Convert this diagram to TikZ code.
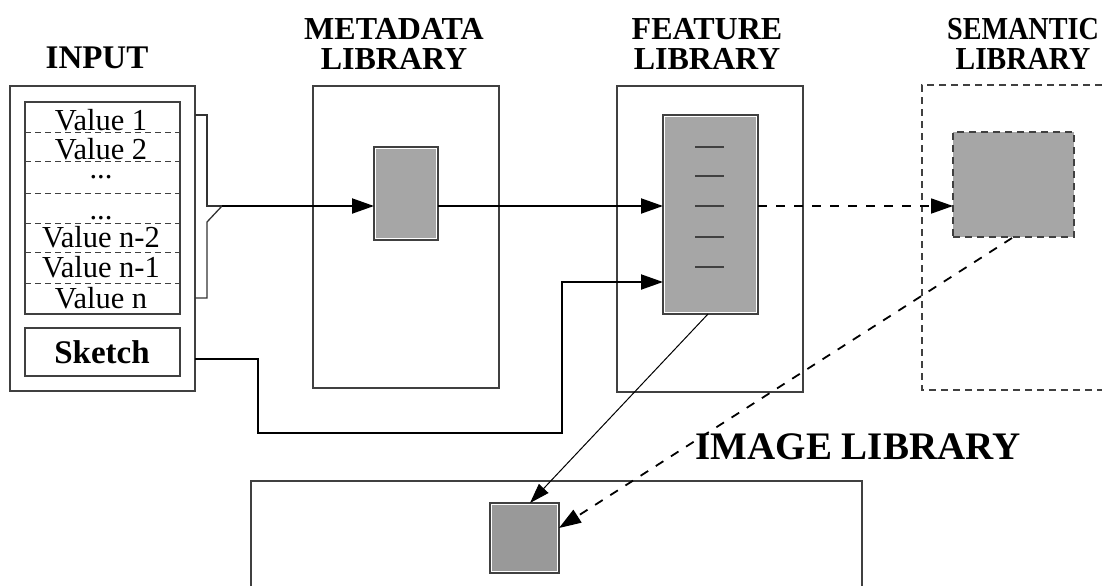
\documentclass[tikz,border=0pt]{standalone}
\usepackage{fontspec}
\setmainfont{Liberation Serif}
\usetikzlibrary{arrows.meta,fit,calc}
\definecolor{lgray}{HTML}{A6A6A6}
\definecolor{dgray}{HTML}{999999}
\definecolor{edge}{HTML}{404040}
\begin{document}
\begin{tikzpicture}[x=1pt,y=-1pt,
  box/.style={draw=edge, line width=1.3pt, inner sep=0pt, outer sep=0pt},
  gbox/.style={draw=edge, line width=1.3pt, inner sep=0pt, outer sep=0pt, fill=white,
    path picture={\fill[#1] ([shift={(2.2pt,2.2pt)}]path picture bounding box.south west) rectangle ([shift={(-2.2pt,-2.2pt)}]path picture bounding box.north east);}},
  dbox/.style={draw=edge, line width=1.5pt, dash pattern=on 7pt off 5pt, fill=lgray, inner sep=0pt, outer sep=0pt},
  dline/.style={draw=edge, line width=1.4pt, dash pattern=on 7pt off 5pt},
  rowline/.style={draw=edge, line width=1pt, dash pattern=on 6pt off 4pt},
  conn/.style={line width=2pt, -{Triangle[length=22pt,width=15pt]}},
  dconn/.style={line width=1.8pt, dash pattern=on 9pt off 9pt, -{Triangle[length=22pt,width=15pt]}},
  tconn/.style={line width=1pt, -{Triangle[length=20pt,width=13pt]}},
  ttl/.style={font=\bfseries\fontsize{32}{30}\selectfont, align=center, inner sep=0pt},
  val/.style={font=\fontsize{30.5}{30}\selectfont, inner sep=0pt, anchor=base, text height=19pt, text depth=0pt},
  dots/.style={font=\fontsize{30.5}{30}\selectfont, inner sep=0pt, anchor=base, text height=4pt, text depth=0pt}
]
\useasboundingbox (0,0) rectangle (1102,586);

% titles
\node[ttl, font=\bfseries\fontsize{33}{30}\selectfont] (tin) at (97,58) {INPUT};
\node[ttl] (tmeta) at (394,44) {METADATA\\LIBRARY};
\node[ttl] (tfeat) at (707,44) {FEATURE\\LIBRARY};
\node[ttl] (tsem) at (1023,44) {\scalebox{0.88}[1]{SEMANTIC}\\\scalebox{0.92}[1]{LIBRARY}};
\node[ttl, font=\bfseries\fontsize{39}{39}\selectfont] (timg) at (858,447) {IMAGE LIBRARY};

% input
\node[box, fit={(10,86) (195,391)}] (input) {};
\node[box, fit={(25,102) (180,314)}] (vals) {};
\foreach \y in {132,161,193,223,252,283}
  \draw[rowline] (25,\y) -- (180,\y);
\node[val] (v1) at (101,130) {Value 1};
\node[val] (v2) at (101,159) {Value 2};
\node[dots] (v3) at (101,178) {...};
\node[dots] (v4) at (101,219) {...};
\node[val] (v5) at (101,247) {Value n-2};
\node[val] (v6) at (101,277) {Value n-1};
\node[val] (v7) at (101,308) {Value n};
\node[box, fit={(25,328) (180,376)}] (sketch) {};
\node[font=\bfseries\fontsize{33}{33}\selectfont, inner sep=0pt] (sktxt) at (102,352) {Sketch};

% bracket
\coordinate (brk) at (222,206);
\draw[draw=black!80, line width=1.3pt] (195,115) -- (207,115) -- (207,206) -- (brk);
\draw[draw=black!80, line width=1.3pt] (brk) -- (207,222) -- (207,298) -- (195,298);

% metadata
\node[box, fit={(313,86) (499,388)}] (meta) {};
\node[gbox=lgray, fit={(374,147) (438,240)}] (metain) {};

% feature
\node[box, fit={(617,86) (803,392)}] (feat) {};
\node[gbox=lgray, fit={(663,115) (758,314)}] (featin) {};
\foreach \y in {147,176,206,237,267}
  \draw[draw=edge, line width=1.2pt] (695,\y) -- (724,\y);

% semantic
\draw[dline] (1102,85) -- (922,85) -- (922,390) -- (1102,390);
\node[dbox, fit={(953,132) (1074,237)}] (semin) {};

% image library
\draw[draw=edge, line width=1.3pt] (251,586) -- (251,481) -- (862,481) -- (862,586);
\node[gbox=dgray, fit={(490,503) (559,573)}] (imgin) {};

% connectors
\draw[conn] (brk) -- (metain.west |- brk);
\draw[conn] (metain.east |- brk) -- (featin.west |- brk);
\coordinate (skout) at (195,359);
\coordinate (fin2) at (663,282);
\draw[conn] (skout) -- (258,359) -- (258,433) -- (562,433) -- (562,282) -- (fin2);
\draw[dconn] (featin.east |- brk) -- (semin.west |- brk);
\coordinate (fbot) at (708,314);
\coordinate (itop) at (530,503);
\draw[tconn] (fbot) -- (itop);
\coordinate (sbot) at (1012,238);
\coordinate (iright) at (559,528);
\draw[dconn] (sbot) -- (iright);
\end{tikzpicture}
\end{document}
